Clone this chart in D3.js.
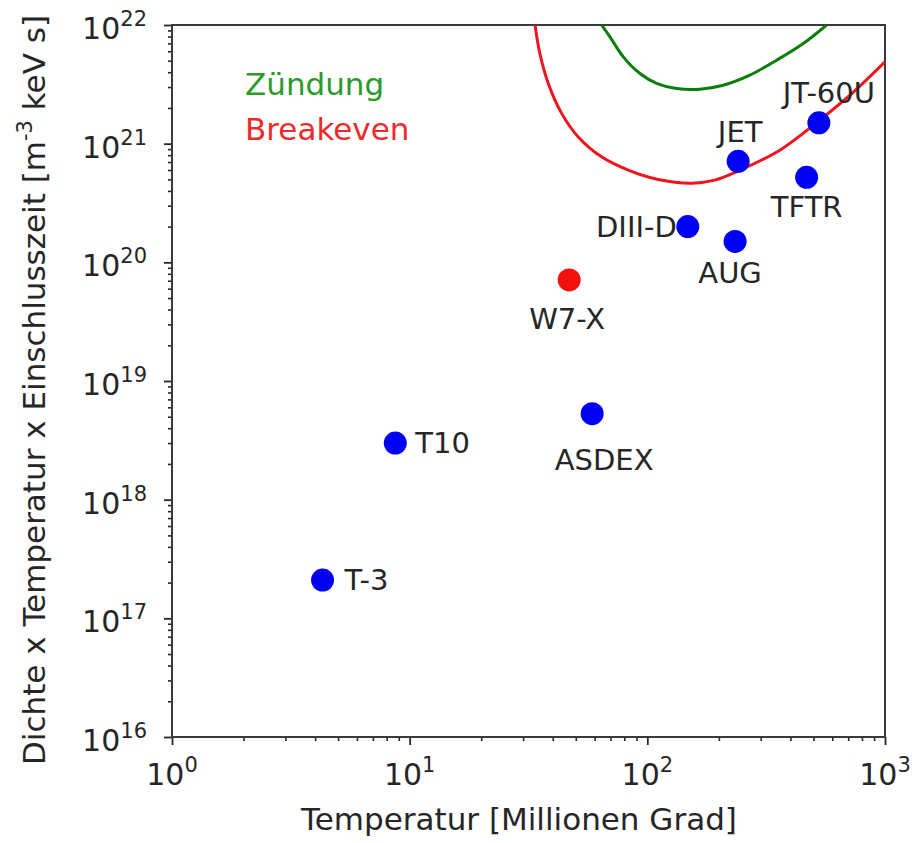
<!DOCTYPE html>
<html><head><meta charset="utf-8">
<script src="https://cdn.jsdelivr.net/npm/d3@7"></script>
<style>body{margin:0;background:#fff} text{font-family:"DejaVu Sans",sans-serif}</style>
</head><body><svg id="c" width="915" height="843"></svg>
<script>
// ---- data ----
const devices = ["T-3","T10","ASDEX","W7-X","DIII-D","AUG","JET","TFTR","JT-60U"];
const deviceType = ["tokamak","tokamak","tokamak","stellarator","tokamak","tokamak","tokamak","tokamak","tokamak"];
const temperature = [4.3, 8.7, 58.6, 46.9, 148, 234, 241, 468, 527];
const tripleProduct = [2.1e17, 3.0e18, 5.3e18, 7.1e19, 2.0e20, 1.5e20, 7.1e20, 5.2e20, 1.5e21];

const breakevenT = [33.7, 35.3, 38.3, 43.6, 51.2, 64.2, 83.1, 111, 154, 192, 245, 361, 532, 712, 1000];
const breakevenNTtau = [1e22, 5.75e21, 3.22e21, 1.80e21, 1.14e21, 7.74e20, 5.98e20, 4.99e20, 4.65e20, 4.93e20, 5.98e20, 8.81e20, 1.58e21, 2.56e21, 4.89e21];
const ignitionT = [64.2, 69.6, 79.2, 93.1, 109.4, 132.8, 166.4, 208.6, 270, 350, 453, 568];
const ignitionNTtau = [1e22, 7.94e21, 5.39e21, 3.90e21, 3.22e21, 2.92e21, 2.88e21, 3.11e21, 3.78e21, 5.05e21, 6.98e21, 1e22];

const xTickExps = [0, 1, 2, 3];
const yTickExps = [16, 17, 18, 19, 20, 21, 22];
const legendLabels = ["Zündung", "Breakeven"];
const xTitle = "Temperatur [Millionen Grad]";

// ---- layout ----
const svg = d3.select("#c");
const L = 172, R = 885, T = 25, B = 737;
const x = d3.scaleLog().domain([1, 1000]).range([L, R]);
const y = d3.scaleLog().domain([1e16, 1e22]).range([B, T]);
const ink = "#262626";

// clip
svg.append("defs").append("clipPath").attr("id", "pc")
  .append("rect").attr("x", L).attr("y", T).attr("width", R - L).attr("height", B - T);

// minor ticks
function minors(lo, hi) {
  const out = [];
  for (let e = lo; e < hi; e++) for (let m = 2; m <= 9; m++) out.push(m * Math.pow(10, e));
  return out;
}
const xMinor = d3.axisBottom(x).tickValues(minors(0, 3)).tickSize(4).tickFormat("");
const yMinor = d3.axisLeft(y).tickValues(minors(16, 22)).tickSize(4).tickFormat("");
const gxm = svg.append("g").attr("transform", `translate(0,${B})`).call(xMinor);
const gym = svg.append("g").attr("transform", `translate(${L},0)`).call(yMinor);
[gxm, gym].forEach(g => { g.select(".domain").remove(); g.selectAll("line").attr("stroke", ink).attr("stroke-width", 1.6); });

// major ticks
const xMajor = d3.axisBottom(x).tickValues(xTickExps.map(e => Math.pow(10, e))).tickSize(8).tickFormat("");
const yMajor = d3.axisLeft(y).tickValues(yTickExps.map(e => Math.pow(10, e))).tickSize(8).tickFormat("");
const gx = svg.append("g").attr("transform", `translate(0,${B})`).call(xMajor);
const gy = svg.append("g").attr("transform", `translate(${L},0)`).call(yMajor);
[gx, gy].forEach(g => { g.select(".domain").remove(); g.selectAll("line").attr("stroke", ink).attr("stroke-width", 1.8); });

// tick labels with superscripts
xTickExps.forEach(e => {
  const t = svg.append("text").attr("x", x(Math.pow(10, e))).attr("y", 785)
    .attr("text-anchor", "middle").attr("fill", ink).attr("font-size", 30);
  t.append("tspan").text("10");
  t.append("tspan").attr("font-size", 21).attr("dy", -13).text(e);
});
yTickExps.forEach(e => {
  const t = svg.append("text").attr("x", 147).attr("y", y(Math.pow(10, e)) + 14)
    .attr("text-anchor", "end").attr("fill", ink).attr("font-size", 30);
  t.append("tspan").text("10");
  t.append("tspan").attr("font-size", 21).attr("dy", -13).text(e);
});

// frame
svg.append("rect").attr("x", L).attr("y", T).attr("width", R - L).attr("height", B - T)
  .attr("fill", "none").attr("stroke", "#3a3a3a").attr("stroke-width", 2);

// curves
const line = d3.line().x(d => x(d[0])).y(d => y(d[1])).curve(d3.curveCatmullRom.alpha(0.5));
const plot = svg.append("g").attr("clip-path", "url(#pc)");
plot.append("path").datum(d3.zip(ignitionT, ignitionNTtau)).attr("d", line)
  .attr("fill", "none").attr("stroke", "#0b7d0b").attr("stroke-width", 3);
plot.append("path").datum(d3.zip(breakevenT, breakevenNTtau)).attr("d", line)
  .attr("fill", "none").attr("stroke", "#f0141e").attr("stroke-width", 3);

// points
const pts = devices.map((d, i) => ({name: d, type: deviceType[i], t: temperature[i], v: tripleProduct[i]}));
const typeColor = {tokamak: "#0000f5", stellarator: "#f51010"};
svg.append("g").selectAll("circle").data(pts).join("circle")
  .attr("cx", d => x(d.t)).attr("cy", d => y(d.v)).attr("r", 11.5)
  .attr("fill", d => typeColor[d.type]);

// point labels (offsets in px)
const labelPos = {
  "T-3":   {dx: 22, dy: 0, a: "start"},
  "T10":   {dx: 20, dy: 0, a: "start"},
  "ASDEX": {dx: 12, dy: 46, a: "middle"},
  "W7-X":  {dx: -2, dy: 39, a: "middle"},
  "DIII-D":{dx: -11, dy: 0, a: "end"},
  "AUG":   {dx: -5, dy: 32, a: "middle"},
  "JET":   {dx: 2, dy: -29, a: "middle"},
  "TFTR":  {dx: 0, dy: 30, a: "middle"},
  "JT-60U":{dx: 10, dy: -30, a: "middle"}
};
svg.append("g").selectAll("text").data(pts).join("text")
  .attr("x", d => x(d.t) + labelPos[d.name].dx)
  .attr("y", d => y(d.v) + labelPos[d.name].dy)
  .attr("text-anchor", d => labelPos[d.name].a)
  .attr("dominant-baseline", "central")
  .attr("font-size", 29).attr("fill", ink).text(d => d.name);

// legend text
svg.append("text").attr("x", 245).attr("y", 95).attr("font-size", 31).attr("fill", "#2a9a2a").text(legendLabels[0]);
svg.append("text").attr("x", 245).attr("y", 140).attr("font-size", 31).attr("fill", "#ee2a2a").text(legendLabels[1]);

// axis titles
svg.append("text").attr("x", 519).attr("y", 830).attr("text-anchor", "middle")
  .attr("font-size", 31).attr("fill", ink).text(xTitle);
const yt = svg.append("text").attr("transform", "translate(45,390) rotate(-90)")
  .attr("text-anchor", "middle").attr("font-size", 31).attr("fill", ink);
yt.append("tspan").text("Dichte x Temperatur x Einschlusszeit [m");
yt.append("tspan").attr("font-size", 21).attr("dy", -13).text("-3");
yt.append("tspan").attr("dy", 13).text(" keV s]");
</script></body></html>
